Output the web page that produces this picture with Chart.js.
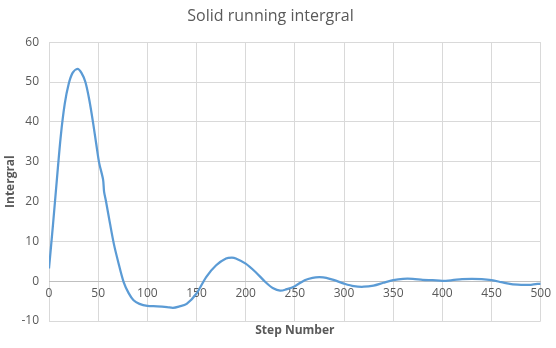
<!DOCTYPE html>
<html>
<head>
<meta charset="utf-8">
<script src="https://cdn.jsdelivr.net/npm/chart.js@4"></script>
<style>
  html, body { margin: 0; padding: 0; background: #fff; }
  #wrap { width: 556px; height: 348px; }
</style>
</head>
<body>
<div id="wrap"><canvas id="integralChart" width="556" height="348"></canvas></div>
<script>
// step numbers and running integral values
const steps = [0, 4, 8, 12, 16, 20, 24, 29, 33, 37, 41, 45, 48, 51, 55, 56, 58, 62, 66, 70, 76, 81, 86, 92,
  100, 110, 120, 126, 132, 140, 150, 160, 170, 180, 186, 190, 200, 210, 220, 228, 235, 242, 250,
  260, 268, 275, 282, 290, 300, 310, 320, 330, 340, 350, 360, 370, 380, 390, 400, 410, 420, 430,
  440, 450, 460, 470, 480, 490, 500];
const integral = [3.2, 14, 25.5, 36.5, 44.5, 49.5, 52.3, 53.3, 52.3, 50, 45.5, 39.5, 34.5, 29.7, 25.5, 22.5, 20,
  14.5, 9.3, 5.2, -0.3, -3, -4.8, -5.7,
  -6.2, -6.3, -6.5, -6.7, -6.4, -5.7, -3.1, 1.1, 4, 5.7, 5.9, 5.7, 4.4, 2.3, -0.2, -1.8, -2.4, -2.0, -1.25,
  0.25, 0.85, 1.0, 0.85, 0.25, -0.6, -1.25, -1.4, -1.1, -0.4, 0.25, 0.6, 0.6, 0.35, 0.25, 0.1, 0.25, 0.5, 0.55,
  0.5, 0.25, -0.25, -0.75, -0.9, -0.9, -0.6];

const xTicks = { min: 0, max: 500, step: 50 };
const yTicks = { min: -10, max: 60, step: 10 };

const textColor = '#595959';
const gridColor = '#d9d9d9';
const fontFamily = '"Open Sans", Lato, sans-serif';

const points = steps.map((s, i) => ({ x: s, y: integral[i] }));

const ctx = document.getElementById('integralChart').getContext('2d');
const integralChart = new Chart(ctx, {
    type: 'line',
    data: {
        datasets: [{
            label: 'Integral',
            data: points,
            borderColor: '#5b9bd5',
            borderWidth: 2.25,
            pointRadius: 0,
            fill: false,
            tension: 0.3
        }]
    },
    options: {
        responsive: false,
        animation: false,
        layout: { padding: { left: 0, right: 15, top: 0, bottom: 6 } },
        plugins: {
            legend: { display: false },
            tooltip: { enabled: false },
            title: {
                display: true,
                text: 'Solid running intergral',
                color: textColor,
                font: { family: fontFamily, size: 16, weight: 'normal' },
                padding: { top: 7, bottom: 16 }
            }
        },
        scales: {
            x: {
                type: 'linear',
                position: { y: 0 },
                min: xTicks.min,
                max: xTicks.max,
                ticks: {
                    stepSize: xTicks.step,
                    color: textColor,
                    font: { family: fontFamily, size: 12 },
                    padding: 5,
                    maxRotation: 0
                },
                grid: { color: gridColor, drawTicks: false },
                border: { color: '#bfbfbf' }
            },
            x2: {
                type: 'linear',
                position: 'bottom',
                min: xTicks.min,
                max: xTicks.max,
                ticks: { display: false },
                grid: { display: false },
                border: { display: false },
                title: {
                    display: true,
                    text: 'Step Number',
                    color: textColor,
                    font: { family: fontFamily, size: 12, weight: 'bold' },
                    padding: { top: 0, bottom: 4 }
                },
                afterFit: (scale) => { scale.height = 21; }
            },
            y: {
                min: yTicks.min,
                max: yTicks.max,
                ticks: {
                    stepSize: yTicks.step,
                    color: textColor,
                    font: { family: fontFamily, size: 12 },
                    padding: 10
                },
                grid: { color: gridColor, drawTicks: false },
                border: { display: false },
                title: {
                    display: true,
                    text: 'Intergral',
                    color: textColor,
                    font: { family: fontFamily, size: 12, weight: 'bold' },
                    padding: { top: 3, bottom: 0 }
                },
                afterFit: (scale) => { scale.width = 49; }
            }
        }
    }
});
</script>
</body>
</html>
